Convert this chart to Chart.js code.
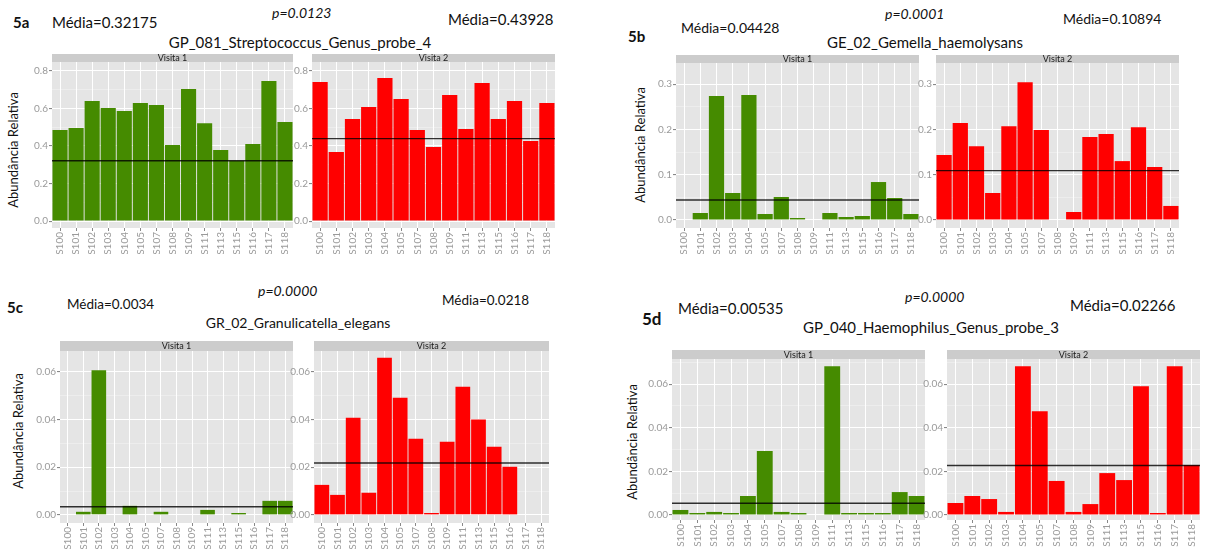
<!DOCTYPE html>
<html>
<head>
<meta charset="utf-8">
<script src="https://cdn.jsdelivr.net/npm/chart.js@4.4.1/dist/chart.umd.min.js"></script>
<style>
  body { margin: 0; background: #fff; }
  #wrap { position: relative; width: 1207px; height: 549px; overflow: hidden; font-family: Lato, "Open Sans", sans-serif; color: #111; }
  .t { position: absolute; white-space: nowrap; line-height: 1; }
  .b { font-weight: bold; }
  .i { font-style: italic; }
  .c { text-align: center; width: 400px; }
  .ylab { position: absolute; white-space: nowrap; line-height: 1; font-size: 13px; transform: translate(-50%, -50%) rotate(-90deg); }
  canvas { position: absolute; }
</style>
</head>
<body>
<div id="wrap">
  <!-- 5a -->
  <div class="t b" style="left:13px;top:15px;font-size:15px">5a</div>
  <div class="t" style="left:52px;top:15px;font-size:15px">Média=0.32175</div>
  <div class="t i" style="left:272px;top:6px;font-size:14px">p=0.0123</div>
  <div class="t" style="left:448px;top:12px;font-size:15px">Média=0.43928</div>
  <div class="t c" style="left:100px;top:35px;font-size:15px">GP_081_Streptococcus_Genus_probe_4</div>
  <div class="ylab" style="left:13px;top:150px">Abundância Relativa</div>

  <!-- 5b -->
  <div class="t b" style="left:628px;top:29px;font-size:15px">5b</div>
  <div class="t" style="left:681px;top:21px;font-size:14px">Média=0.04428</div>
  <div class="t i" style="left:885px;top:7px;font-size:14px">p=0.0001</div>
  <div class="t" style="left:1063px;top:12px;font-size:14px">Média=0.10894</div>
  <div class="t c" style="left:725px;top:35px;font-size:15px">GE_02_Gemella_haemolysans</div>
  <div class="ylab" style="left:640px;top:145px">Abundância Relativa</div>

  <!-- 5c -->
  <div class="t b" style="left:7px;top:300px;font-size:15px">5c</div>
  <div class="t" style="left:67px;top:298px;font-size:13.5px">Média=0.0034</div>
  <div class="t i" style="left:258px;top:284px;font-size:14px">p=0.0000</div>
  <div class="t" style="left:442px;top:294px;font-size:13.5px">Média=0.0218</div>
  <div class="t c" style="left:98px;top:316px;font-size:14px">GR_02_Granulicatella_elegans</div>
  <div class="ylab" style="left:18px;top:431px">Abundância Relativa</div>

  <!-- 5d -->
  <div class="t b" style="left:642px;top:310px;font-size:17px">5d</div>
  <div class="t" style="left:678px;top:301px;font-size:15px">Média=0.00535</div>
  <div class="t i" style="left:905px;top:290px;font-size:14px">p=0.0000</div>
  <div class="t" style="left:1070px;top:298px;font-size:15px">Média=0.02266</div>
  <div class="t c" style="left:731px;top:320px;font-size:15px">GP_040_Haemophilus_Genus_probe_3</div>
  <div class="ylab" style="left:632px;top:442px">Abundância Relativa</div>
</div>

<script>
// samples on the x axis (same for every facet)
const samples = ['S100', 'S101', 'S102', 'S103', 'S104', 'S105', 'S107', 'S108',
                 'S109', 'S111', 'S113', 'S115', 'S116', 'S117', 'S118'];

// 5a - GP_081_Streptococcus_Genus_probe_4
const strepV1 = [0.485, 0.496, 0.640, 0.603, 0.587, 0.629, 0.619, 0.405, 0.704, 0.521, 0.379, 0.322, 0.411, 0.747, 0.528];
const strepV2 = [0.741, 0.368, 0.544, 0.608, 0.763, 0.651, 0.485, 0.395, 0.672, 0.491, 0.736, 0.544, 0.640, 0.427, 0.629];

// 5b - GE_02_Gemella_haemolysans
const gemV1 = [0, 0.0154, 0.2735, 0.0596, 0.2757, 0.0132, 0.0507, 0.0044, 0, 0.0154, 0.0066, 0.0088, 0.0838, 0.0485, 0.0132];
const gemV2 = [0.1434, 0.214, 0.163, 0.0596, 0.207, 0.304, 0.1985, 0, 0.0176, 0.183, 0.190, 0.130, 0.205, 0.117, 0.031];

// 5c - GR_02_Granulicatella_elegans
const granV1 = [0, 0.0013, 0.0607, 0, 0.0038, 0, 0.0013, 0, 0, 0.0021, 0, 0.0008, 0, 0.0059, 0.0059];
const granV2 = [0.0126, 0.0084, 0.0408, 0.0093, 0.066, 0.0492, 0.032, 0.0008, 0.0307, 0.0538, 0.040, 0.0286, 0.0202, 0, 0];

// 5d - GP_040_Haemophilus_Genus_probe_3
const haemV1 = [0.0023, 0.0009, 0.0014, 0.0009, 0.0087, 0.0293, 0.0014, 0.0009, 0, 0.0682, 0.0009, 0.0009, 0.0009, 0.0105, 0.0087];
const haemV2 = [0.0055, 0.0087, 0.0073, 0.0014, 0.0682, 0.0476, 0.0156, 0.0014, 0.005, 0.0192, 0.016, 0.059, 0.0009, 0.0682, 0.0229];

// group means (horizontal lines)
const strepMeans = [0.32175, 0.43928];
const gemMeans = [0.04428, 0.10894];
const granMeans = [0.0034, 0.0218];
const haemMeans = [0.00535, 0.02266];

const GREEN = '#458B00';
const RED = '#FF0000';
const FONT = 'Lato, "Open Sans", sans-serif';
const YW = 30; // width reserved for y tick labels

// one entry per facet: where it sits and how its y axis looks
const facets = [
  { left: 22,  top: 54,  w: 271, h: 200, stripH: 8,  xH: 26, data: strepV1, color: GREEN, mean: strepMeans[0], strip: 'Visita 1', min: -0.037, max: 0.848, step: 0.1, major: 0.2, dec: 1 },
  { left: 282, top: 54,  w: 273, h: 200, stripH: 8,  xH: 26, data: strepV2, color: RED,   mean: strepMeans[1], strip: 'Visita 2', min: -0.037, max: 0.848, step: 0.1, major: 0.2, dec: 1 },
  { left: 646, top: 55,  w: 273, h: 199, stripH: 8,  xH: 26, data: gemV1,   color: GREEN, mean: gemMeans[0],   strip: 'Visita 1', min: -0.0177, max: 0.3466, step: 0.05, major: 0.1, dec: 1 },
  { left: 906, top: 55,  w: 273, h: 199, stripH: 8,  xH: 26, data: gemV2,   color: RED,   mean: gemMeans[1],   strip: 'Visita 2', min: -0.0177, max: 0.3466, step: 0.05, major: 0.1, dec: 1 },
  { left: 30,  top: 341, w: 263, h: 208, stripH: 10, xH: 26, data: granV1,  color: GREEN, mean: granMeans[0],  strip: 'Visita 1', min: -0.0034, max: 0.0688, step: 0.01, major: 0.02, dec: 2 },
  { left: 284, top: 341, w: 265, h: 208, stripH: 10, xH: 26, data: granV2,  color: RED,   mean: granMeans[1],  strip: 'Visita 2', min: -0.0034, max: 0.0688, step: 0.01, major: 0.02, dec: 2 },
  { left: 642, top: 350, w: 283, h: 198, stripH: 9,  xH: 28, data: haemV1,  color: GREEN, mean: haemMeans[0],  strip: 'Visita 1', min: -0.0023, max: 0.0715, step: 0.01, major: 0.02, dec: 2 },
  { left: 917, top: 350, w: 283, h: 198, stripH: 9,  xH: 28, data: haemV2,  color: RED,   mean: haemMeans[1],  strip: 'Visita 2', min: -0.0023, max: 0.0715, step: 0.01, major: 0.02, dec: 2 }
];

function isMajor(v, major) {
  const r = v / major;
  return Math.abs(r - Math.round(r)) < 1e-6;
}

const wrap = document.getElementById('wrap');

facets.forEach(f => {
  const canvas = document.createElement('canvas');
  canvas.width = f.w;
  canvas.height = f.h;
  canvas.style.left = f.left + 'px';
  canvas.style.top = f.top + 'px';
  wrap.appendChild(canvas);

  // grey panel + facet strip, mean line on top of the bars
  const panel = {
    id: 'panel',
    beforeDraw(chart) {
      const { ctx, chartArea: a } = chart;
      ctx.save();
      ctx.fillStyle = '#E5E5E5';
      ctx.fillRect(a.left, a.top, a.right - a.left, a.bottom - a.top);
      ctx.fillStyle = '#CCCCCC';
      ctx.fillRect(a.left, a.top - f.stripH, a.right - a.left, f.stripH);
      ctx.fillStyle = '#1a1a1a';
      ctx.font = '9px ' + FONT;
      ctx.textAlign = 'center';
      ctx.textBaseline = 'middle';
      ctx.fillText(f.strip, (a.left + a.right) / 2, a.top - f.stripH / 2 + 0.5);
      ctx.restore();
    },
    afterDatasetsDraw(chart) {
      const { ctx, chartArea: a } = chart;
      const y = chart.scales.y.getPixelForValue(f.mean);
      ctx.save();
      ctx.strokeStyle = 'rgba(0,0,0,0.8)';
      ctx.lineWidth = 1.4;
      ctx.beginPath();
      ctx.moveTo(a.left, y);
      ctx.lineTo(a.right, y);
      ctx.stroke();
      ctx.restore();
    }
  };

  new Chart(canvas, {
    type: 'bar',
    data: {
      labels: samples,
      datasets: [{
        data: f.data,
        backgroundColor: f.color,
        borderWidth: 0,
        categoryPercentage: 1,
        barPercentage: 0.94
      }]
    },
    options: {
      responsive: false,
      animation: false,
      events: [],
      layout: { padding: { top: f.stripH, left: 0, right: 0, bottom: 0 } },
      plugins: {
        legend: { display: false },
        tooltip: { enabled: false }
      },
      scales: {
        x: {
          grid: { color: '#FFFFFF', lineWidth: 1, offset: false, tickLength: 3, tickColor: '#888' },
          border: { display: false },
          ticks: {
            color: '#9a9a9a',
            font: { size: 10, family: FONT },
            minRotation: 90,
            maxRotation: 90,
            autoSkip: false,
            padding: 1
          },
          afterFit: s => { s.height = f.xH; s.paddingLeft = 0; s.paddingRight = 0; }
        },
        y: {
          min: f.min,
          max: f.max,
          grid: {
            color: ctx => isMajor(ctx.tick.value, f.major) ? '#FFFFFF' : 'rgba(255,255,255,0.55)',
            lineWidth: ctx => isMajor(ctx.tick.value, f.major) ? 1.1 : 0.6,
            tickColor: ctx => isMajor(ctx.tick.value, f.major) ? '#888' : 'rgba(0,0,0,0)',
            tickLength: 3
          },
          border: { display: false },
          ticks: {
            stepSize: f.step,
            includeBounds: false,
            color: '#9a9a9a',
            font: { size: 10, family: FONT },
            padding: 1,
            callback: v => isMajor(v, f.major) ? v.toFixed(f.dec) : ''
          },
          afterFit: s => { s.width = YW; s.paddingTop = 0; s.paddingBottom = 0; }
        }
      }
    },
    plugins: [panel]
  });
});
</script>
</body>
</html>
